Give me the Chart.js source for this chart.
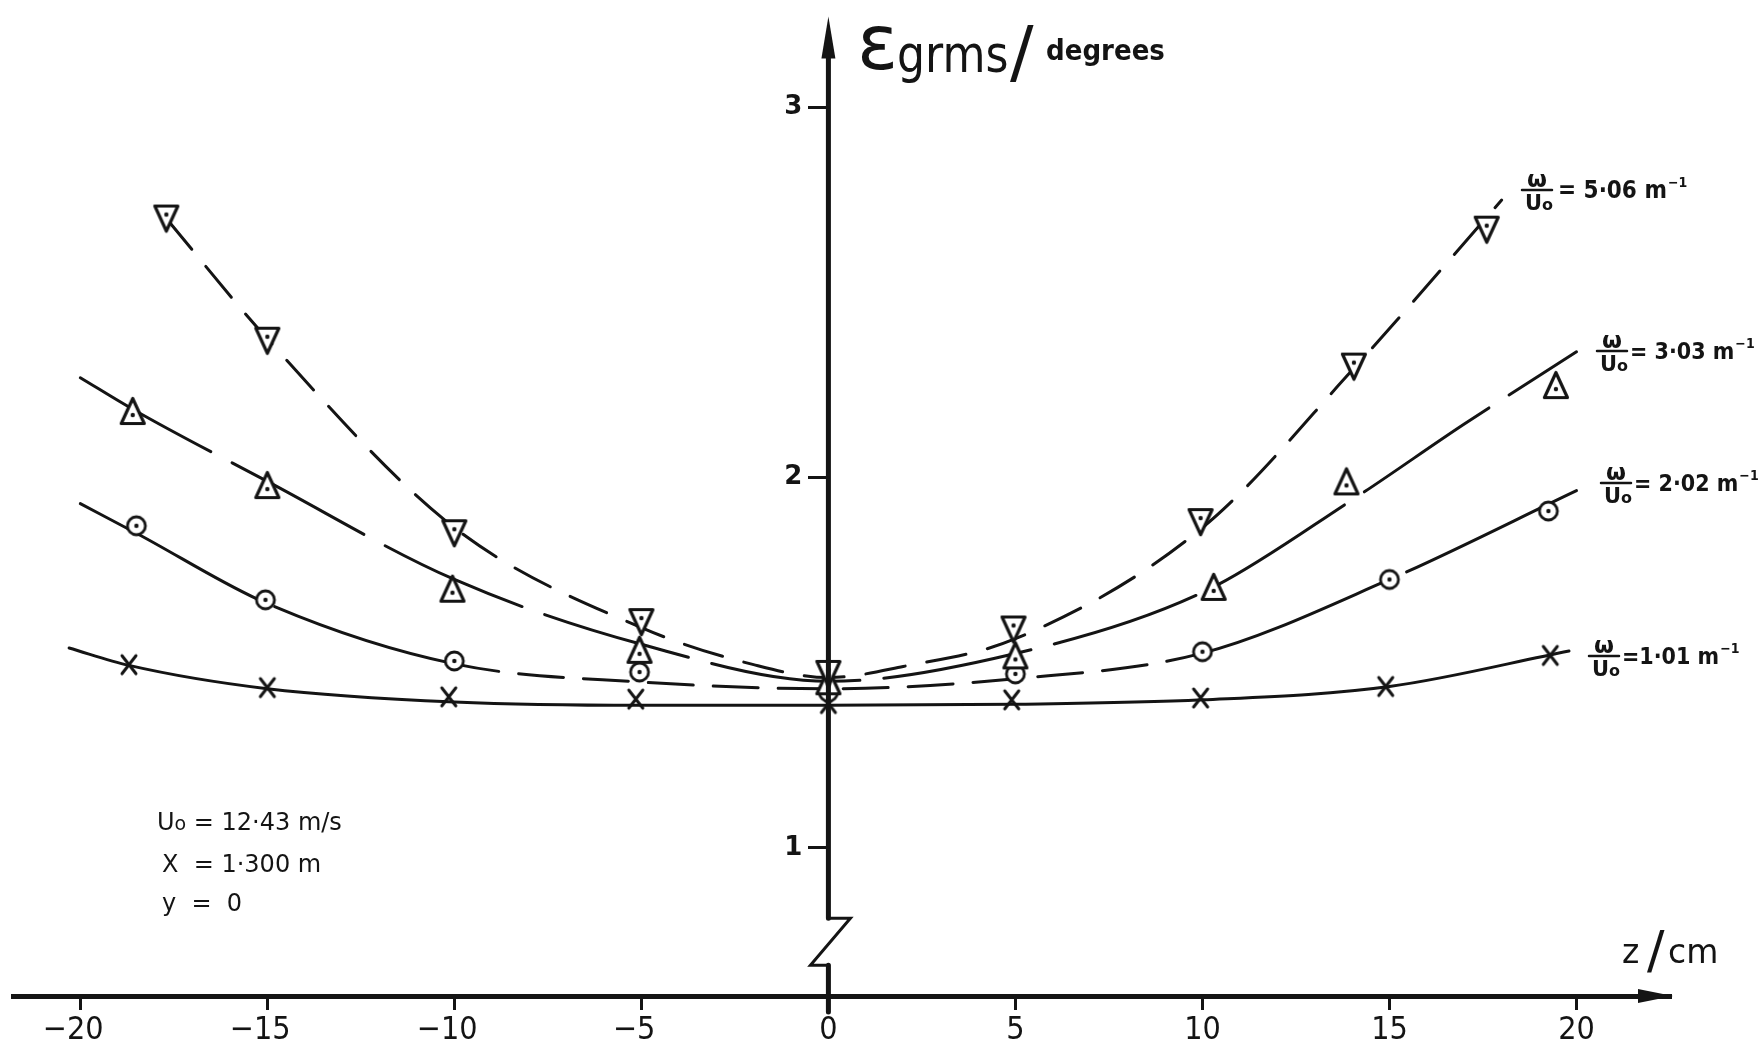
<!DOCTYPE html>
<html>
<head>
<meta charset="utf-8">
<script src="https://cdn.jsdelivr.net/npm/chart.js@4.4.1/dist/chart.umd.min.js"></script>
<style>
  html, body { margin: 0; padding: 0; background: #fff; }
  canvas { display: block; }
</style>
</head>
<body>
<canvas id="chart" width="1763" height="1048"></canvas>
<script>
// measured points, z in cm, eps_grms in degrees
const zMarks5 = [-17.7, -15, -10, -5, 0, 4.95, 9.95, 14.05, 17.6];
const epsMarks5 = [2.70, 2.37, 1.85, 1.61, 1.47, 1.59, 1.88, 2.30, 2.67];
const zMarks3 = [-18.6, -15, -10.05, -5.05, 0, 5, 10.3, 13.85, 19.45];
const epsMarks3 = [2.18, 1.98, 1.70, 1.535, 1.45, 1.52, 1.705, 1.99, 2.25];
const zMarks2 = [-18.5, -15.05, -10, -5.05, 0, 5, 10, 15, 19.25];
const epsMarks2 = [1.87, 1.67, 1.505, 1.475, 1.42, 1.47, 1.53, 1.725, 1.91];
const zMarks1 = [-18.7, -15, -10.15, -5.15, 0, 4.9, 9.95, 14.9, 19.3];
const epsMarks1 = [1.495, 1.433, 1.408, 1.402, 1.39, 1.40, 1.405, 1.436, 1.52];

// faired curves
const zCurve5 = [-17.7, -15, -10, -5, -2, 0, 2, 5, 10, 14, 18];
const epsCurve5 = [2.70, 2.375, 1.865, 1.595, 1.495, 1.46, 1.49, 1.565, 1.865, 2.29, 2.75];
const zCurve3 = [-20, -18.6, -15, -10, -5, 0, 5, 10, 14, 17, 20];
const epsCurve3 = [2.27, 2.185, 1.99, 1.725, 1.55, 1.45, 1.525, 1.69, 1.94, 2.145, 2.34];
const zCurve2 = [-20, -18.5, -15, -10, -5, 0, 5, 10, 15, 20];
const epsCurve2 = [1.93, 1.85, 1.66, 1.497, 1.448, 1.43, 1.457, 1.526, 1.725, 1.965];
const zCurve1 = [-20.3, -18.7, -15, -10, -5, 0, 5, 10, 15, 19.8];
const epsCurve1 = [1.54, 1.493, 1.43, 1.394, 1.385, 1.385, 1.388, 1.40, 1.436, 1.532];

const xTicks = [-20, -15, -10, -5, 0, 5, 10, 15, 20];
const yTicks = [1, 2, 3];
const curveLabels = ['= 5·06 m', '= 3·03 m', '= 2·02 m', '=1·01 m'];

const ink = '#141414';
const breakHi = 0.81, breakLo = 0.683;

const pts = (xs, ys) => xs.map((v, i) => ({ x: v, y: ys[i] }));

// marker images
function tri(up) {
  const c = document.createElement('canvas');
  c.width = 28; c.height = 30;
  const g = c.getContext('2d');
  g.lineWidth = 3.2; g.lineJoin = 'round'; g.strokeStyle = ink; g.fillStyle = '#fff';
  g.beginPath();
  if (up) { g.moveTo(14, 2.5); g.lineTo(25.5, 27.5); g.lineTo(2.5, 27.5); }
  else { g.moveTo(2.5, 2.5); g.lineTo(25.5, 2.5); g.lineTo(14, 27.5); }
  g.closePath(); g.fill(); g.stroke();
  g.fillStyle = ink;
  g.beginPath(); g.arc(14, up ? 19 : 11, 2.2, 0, 7); g.fill();
  return c;
}
function ring() {
  const c = document.createElement('canvas');
  c.width = 24; c.height = 24;
  const g = c.getContext('2d');
  g.lineWidth = 2.8; g.strokeStyle = ink; g.fillStyle = '#fff';
  g.beginPath(); g.arc(12, 12, 9, 0, 7); g.fill(); g.stroke();
  g.fillStyle = ink;
  g.beginPath(); g.arc(12, 12, 2.2, 0, 7); g.fill();
  return c;
}
function cross() {
  const c = document.createElement('canvas');
  c.width = 22; c.height = 24;
  const g = c.getContext('2d');
  g.lineWidth = 3; g.lineCap = 'round'; g.strokeStyle = ink;
  g.beginPath();
  g.moveTo(4, 3); g.quadraticCurveTo(11, 12, 18, 21);
  g.moveTo(18, 3); g.quadraticCurveTo(11, 12, 4, 21);
  g.stroke();
  return c;
}

function curve(xs, ys, dash, extra) {
  return Object.assign({
    data: pts(xs, ys), showLine: true, pointRadius: 0, borderColor: ink,
    borderWidth: 3, borderDash: dash, cubicInterpolationMode: 'monotone',
    borderCapStyle: 'round', order: 2, clip: false
  }, extra || {});
}
function marks(xs, ys, img) {
  return { data: pts(xs, ys), showLine: false, pointStyle: img, pointRadius: 12, order: 1, clip: false };
}

function runs(ctx, x, y, parts) {
  for (const [t, font, dy] of parts) {
    ctx.font = font;
    ctx.fillText(t, x, y + (dy || 0));
    x += ctx.measureText(t).width;
  }
  return x;
}

const decor = {
  id: 'decor',
  afterDraw(chart) {
    const { ctx, chartArea: a, scales: { x, y } } = chart;
    const x0 = x.getPixelForValue(0);
    ctx.save();
    ctx.strokeStyle = ink; ctx.fillStyle = ink; ctx.lineCap = 'round';

    // vertical axis with break
    const pHi = y.getPixelForValue(breakHi), pLo = y.getPixelForValue(breakLo);
    ctx.lineWidth = 5;
    ctx.beginPath();
    ctx.moveTo(x0, a.bottom + 16); ctx.lineTo(x0, pLo);
    ctx.moveTo(x0, pHi); ctx.lineTo(x0, a.top + 36);
    ctx.stroke();
    ctx.lineWidth = 3;
    ctx.beginPath();
    ctx.moveTo(x0, pHi); ctx.lineTo(x0 + 22, pHi); ctx.lineTo(x0 - 18, pLo); ctx.lineTo(x0, pLo);
    ctx.stroke();

    // arrow heads
    ctx.beginPath();
    ctx.moveTo(x0, a.top - 2); ctx.lineTo(x0 + 7, a.top + 40); ctx.lineTo(x0 - 7, a.top + 40);
    ctx.closePath(); ctx.fill();
    ctx.beginPath();
    ctx.moveTo(a.right + 3, a.bottom); ctx.lineTo(a.right - 32, a.bottom - 7); ctx.lineTo(a.right - 32, a.bottom + 7);
    ctx.closePath(); ctx.fill();

    ctx.textAlign = 'left'; ctx.textBaseline = 'alphabetic';

    // y title
    ctx.save(); ctx.translate(857, 69);
    ctx.font = '76px "DejaVu Sans"'; ctx.fillText('ε', 0, 0);
    ctx.restore();
    ctx.save(); ctx.translate(897, 72); ctx.scale(0.85, 1);
    ctx.font = '52px "DejaVu Sans"'; ctx.fillText('grms', 0, 0);
    ctx.restore();
    ctx.font = '70px "DejaVu Sans"'; ctx.fillText('/', 1010, 76);
    ctx.font = 'bold 29px "DejaVu Sans Condensed", "DejaVu Sans"'; ctx.fillText('degrees', 1046, 60);

    // x title
    ctx.font = '33px "DejaVu Sans"'; ctx.fillText('z', 1622, 963);
    ctx.font = '52px "DejaVu Sans"'; ctx.fillText('/', 1647, 968);
    ctx.font = '33px "DejaVu Sans"'; ctx.fillText('cm', 1668, 963);

    // curve labels  w/Uo = ... m^-1
    const spots = [[1537, 190, 1558], [1612, 351, 1630], [1616, 483, 1634], [1604, 656, 1622]];
    spots.forEach(([cx, cy, tx], i) => {
      ctx.textAlign = 'center';
      ctx.font = 'bold 23px "DejaVu Sans"'; ctx.fillText('ω', cx, cy - 3);
      ctx.lineWidth = 2.5;
      ctx.beginPath(); ctx.moveTo(cx - 15, cy); ctx.lineTo(cx + 15, cy); ctx.stroke();
      ctx.textAlign = 'left';
      runs(ctx, cx - 12, cy + 20, [['U', 'bold 21px "DejaVu Sans"'], ['o', 'bold 16px "DejaVu Sans"']]);
      const size = i === 0 ? 24 : 23;
      const end = runs(ctx, tx, cy + 8, [[curveLabels[i], 'bold ' + size + 'px "DejaVu Sans Condensed", "DejaVu Sans"']]);
      runs(ctx, end + 1, cy - 3, [['−1', 'bold 14px "DejaVu Sans Condensed", "DejaVu Sans"']]);
    });

    // run conditions
    ctx.textAlign = 'left';
    runs(ctx, 157, 830, [['U', '24px "DejaVu Sans"'], ['o', '19px "DejaVu Sans"'], [' = 12·43 m/s', '24px "DejaVu Sans"']]);
    runs(ctx, 162, 872, [['X  = 1·300 m', '24px "DejaVu Sans"']]);
    runs(ctx, 162, 911, [['y  =  0', '24px "DejaVu Sans"']]);
    ctx.restore();
  }
};

new Chart(document.getElementById('chart'), {
  type: 'scatter',
  data: {
    datasets: [
      curve(zCurve5, epsCurve5, [40, 22]),
      curve(zCurve3, epsCurve3, [150, 24]),
      curve(zCurve2, epsCurve2, [200, 20], {
        segment: { borderDash: c => (c.p0.parsed.x >= -10 && c.p1.parsed.x <= 10) ? [45, 20] : undefined }
      }),
      curve(zCurve1, epsCurve1, []),
      marks(zMarks5, epsMarks5, tri(false)),
      marks(zMarks3, epsMarks3, tri(true)),
      marks(zMarks2, epsMarks2, ring()),
      marks(zMarks1, epsMarks1, cross())
    ]
  },
  options: {
    responsive: false,
    animation: false,
    devicePixelRatio: 1,
    layout: { padding: { left: 11, right: 93, top: 13, bottom: 0 } },
    plugins: { legend: { display: false }, tooltip: { enabled: false } },
    scales: {
      x: {
        type: 'linear', position: 'bottom', min: -21.8, max: 22.5,
        afterBuildTicks: s => { s.ticks = xTicks.map(v => ({ value: v })); },
        afterFit: s => { s.height = 52; },
        ticks: {
          autoSkip: false, maxRotation: 0, padding: 1, color: ink,
          font: { family: '"Liberation Sans Narrow", "DejaVu Sans Condensed", sans-serif', size: 32 },
          // minus sign hangs to the left of the digits
          callback: v => v < 0 ? '\u2212' + (-v) + '\u2002' : String(v)
        },
        grid: { drawOnChartArea: false, drawTicks: true, tickLength: 14, color: ink, lineWidth: 3 },
        border: { display: true, color: ink, width: 5 }
      },
      y: {
        type: 'linear', position: { x: 0 }, min: 0.6, max: 3.24,
        afterBuildTicks: s => { s.ticks = yTicks.map(v => ({ value: v })); },
        ticks: {
          color: ink,
          font: { family: '"DejaVu Sans", sans-serif', size: 26, weight: 'bold' },
          // label sits left of the tick mark
          callback: v => v + '\u2003'
        },
        grid: { drawOnChartArea: false, drawTicks: true, tickLength: 20, color: ink, lineWidth: 3 },
        border: { display: false }
      }
    }
  },
  plugins: [decor]
});
</script>
</body>
</html>
